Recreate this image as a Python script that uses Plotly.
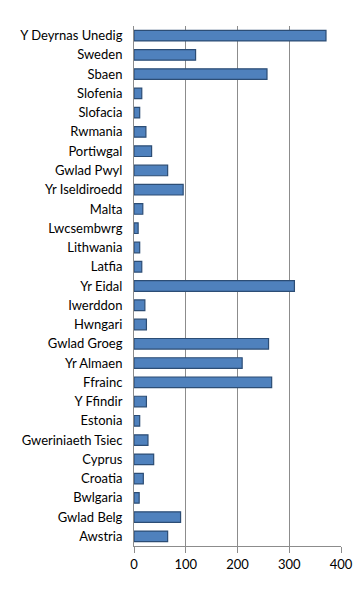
import plotly.graph_objects as go

categories = ["Awstria", "Gwlad Belg", "Bwlgaria", "Croatia", "Cyprus", "Gweriniaeth Tsiec",
              "Estonia", "Y Ffindir", "Ffrainc", "Yr Almaen", "Gwlad Groeg", "Hwngari",
              "Iwerddon", "Yr Eidal", "Latfia", "Lithwania", "Lwcsembwrg", "Malta",
              "Yr Iseldiroedd", "Gwlad Pwyl", "Portiwgal", "Rwmania", "Slofacia",
              "Slofenia", "Sbaen", "Sweden", "Y Deyrnas Unedig"]
values = [65, 90, 10, 18, 38, 27, 11, 24, 266, 209, 260, 24, 21, 310, 15, 11, 8, 17,
          95, 65, 34, 23, 11, 15, 257, 119, 371]
tick_vals = [0, 100, 200, 300, 400]

fig = go.Figure(go.Bar(
    y=categories, x=values, orientation="h",
    marker=dict(color="#4F81BD", line=dict(color="#2C4D75", width=1.2)),
    width=0.55,
))

fig.update_layout(
    width=363, height=592,
    margin=dict(l=122, r=30, t=18, b=54),
    paper_bgcolor="white", plot_bgcolor="white",
    font=dict(family="Lato, Open Sans, sans-serif", size=13, color="#000000"),
    showlegend=False,
    xaxis=dict(range=[0, 400], tickvals=tick_vals, showgrid=True, gridcolor="#8C8C8C",
               gridwidth=1, zeroline=False, showline=True, linecolor="#8C8C8C",
               ticks="outside", ticklen=6, tickcolor="#8C8C8C", tickfont=dict(size=13)),
    yaxis=dict(range=[-0.5, 26.5], showline=True, linecolor="#8C8C8C", ticks="",
               ticklabelstandoff=8, tickfont=dict(size=13)),
)

fig.write_html("out.html")
